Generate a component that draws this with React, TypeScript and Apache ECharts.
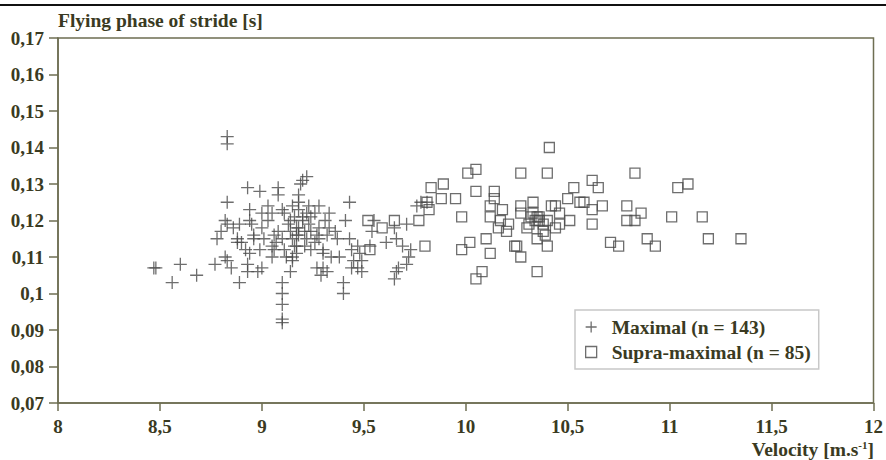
import React, { useEffect, useRef } from "react";
import * as echarts from "echarts";

const xTicks = ["8", "8,5", "9", "9,5", "10", "10,5", "11", "11,5", "12"];
const yTicks = ["0,07", "0,08", "0,09", "0,1", "0,11", "0,12", "0,13", "0,14", "0,15", "0,16", "0,17"];

const maximalName = "Maximal (n = 143)";
const supraName = "Supra-maximal (n = 85)";

const maximal: number[][] = [
  [8.83, 0.143], [8.83, 0.141], [8.83, 0.125], [8.82, 0.12], [8.83, 0.119], [8.86, 0.118],
  [8.8, 0.117], [8.78, 0.115], [8.88, 0.115], [8.88, 0.114], [8.82, 0.11], [8.83, 0.109],
  [8.85, 0.107], [8.77, 0.108], [8.6, 0.108], [8.48, 0.107], [8.47, 0.107], [8.56, 0.103],
  [8.68, 0.105], [8.89, 0.103], [8.93, 0.129], [8.99, 0.128], [9.08, 0.129], [9.08, 0.127],
  [9.19, 0.13], [9.2, 0.131], [9.22, 0.132], [8.94, 0.123], [9.0, 0.122], [9.05, 0.122],
  [9.15, 0.124], [9.18, 0.125], [9.16, 0.121], [9.2, 0.121], [9.22, 0.122], [9.24, 0.121],
  [9.28, 0.124], [9.33, 0.122], [8.94, 0.12], [8.95, 0.119], [9.0, 0.118], [8.96, 0.116],
  [8.96, 0.115], [9.06, 0.116], [9.07, 0.114], [9.06, 0.112], [9.08, 0.117], [9.14, 0.12],
  [9.18, 0.118], [9.21, 0.117], [9.24, 0.117], [9.28, 0.118], [9.33, 0.118], [9.36, 0.117],
  [8.9, 0.114], [9.15, 0.115], [9.22, 0.115], [9.28, 0.115], [9.16, 0.113], [9.17, 0.111],
  [9.24, 0.112], [9.3, 0.112], [9.17, 0.116], [9.17, 0.113], [9.15, 0.11], [9.15, 0.109],
  [8.94, 0.111], [9.05, 0.11], [9.12, 0.11], [9.14, 0.106], [9.3, 0.111], [9.34, 0.11],
  [9.38, 0.11], [8.93, 0.108], [8.93, 0.106], [8.98, 0.106], [9.0, 0.107], [9.27, 0.107],
  [9.3, 0.107], [9.29, 0.105], [9.32, 0.106], [9.1, 0.103], [9.1, 0.1], [9.1, 0.097],
  [9.1, 0.093], [9.1, 0.092], [9.4, 0.103], [9.4, 0.1], [9.05, 0.113], [9.18, 0.127],
  [9.43, 0.125], [9.43, 0.115], [9.44, 0.112], [9.47, 0.113], [9.44, 0.107], [9.48, 0.111],
  [9.49, 0.109], [9.45, 0.109], [9.47, 0.107], [9.49, 0.106], [9.54, 0.117], [9.55, 0.12],
  [9.53, 0.113], [9.61, 0.114], [9.65, 0.118], [9.66, 0.115], [9.71, 0.119], [9.69, 0.113],
  [9.73, 0.112], [9.72, 0.11], [9.71, 0.108], [9.67, 0.107], [9.66, 0.106], [9.65, 0.104],
  [9.78, 0.125], [9.81, 0.125], [9.76, 0.124], [9.11, 0.122], [9.13, 0.119], [9.18, 0.123],
  [9.2, 0.12], [9.23, 0.119], [9.26, 0.122], [9.27, 0.116], [9.31, 0.12], [9.32, 0.116],
  [9.18, 0.116], [9.21, 0.113], [9.14, 0.117], [9.1, 0.115], [9.11, 0.112], [9.03, 0.12],
  [9.01, 0.115], [8.92, 0.112], [8.89, 0.119], [9.1, 0.123], [9.17, 0.118], [9.26, 0.114],
  [9.23, 0.124], [9.37, 0.115], [9.41, 0.12], [9.03, 0.124], [8.99, 0.112],
];

const supraMaximal: number[][] = [
  [9.83, 0.129], [9.89, 0.13], [9.88, 0.126], [9.95, 0.126], [9.81, 0.125], [9.82, 0.123],
  [9.52, 0.12], [9.59, 0.118], [9.65, 0.12], [9.77, 0.12], [9.53, 0.112], [9.8, 0.113],
  [9.98, 0.121], [9.98, 0.112], [10.41, 0.14], [10.01, 0.133], [10.05, 0.134], [10.27, 0.133],
  [10.4, 0.133], [10.05, 0.128], [10.14, 0.128], [10.14, 0.126], [10.12, 0.124], [10.18, 0.123],
  [10.27, 0.124], [10.33, 0.125], [10.33, 0.122], [10.35, 0.121], [10.42, 0.124], [10.44, 0.124],
  [10.5, 0.126], [10.53, 0.129], [10.56, 0.125], [10.62, 0.123], [10.62, 0.131], [10.12, 0.121],
  [10.17, 0.12], [10.16, 0.118], [10.2, 0.117], [10.27, 0.122], [10.32, 0.121], [10.36, 0.12],
  [10.4, 0.12], [10.46, 0.119], [10.51, 0.12], [10.31, 0.119], [10.38, 0.117], [10.39, 0.116],
  [10.62, 0.119], [10.02, 0.114], [10.1, 0.115], [10.12, 0.111], [10.24, 0.113], [10.25, 0.113],
  [10.27, 0.11], [10.35, 0.115], [10.4, 0.113], [10.05, 0.104], [10.08, 0.106], [10.35, 0.106],
  [10.83, 0.133], [10.65, 0.129], [11.04, 0.129], [11.09, 0.13], [10.67, 0.124], [10.79, 0.124],
  [10.79, 0.12], [10.83, 0.12], [10.86, 0.122], [11.01, 0.121], [11.16, 0.121], [10.71, 0.114],
  [10.75, 0.113], [10.89, 0.115], [10.93, 0.113], [11.19, 0.115], [11.35, 0.115],
  [10.34, 0.12], [10.36, 0.121], [10.3, 0.118], [10.38, 0.119], [10.21, 0.119], [10.46, 0.122],
  [10.58, 0.125], [10.44, 0.118],
];

const FONT = "'Liberation Serif', 'Times New Roman', serif";
const TEXT = "#3a3a22";
const AXIS = "#6e6e52";
const MARK = "#4a4a4a";
const PLUS = "path://M0,5L10,5M5,0L5,10";

export default function App() {
  const ref = useRef<HTMLDivElement>(null);
  useEffect(() => {
    if (!ref.current) return;
    const chart = echarts.init(ref.current, undefined, { renderer: "svg" });
    const fmt = (v: number) => String(+v.toFixed(2)).replace(".", ",");
    chart.setOption({
      animation: false,
      backgroundColor: "#ffffff",
      grid: {
        left: 58,
        right: 11,
        top: 38,
        bottom: 57,
        show: true,
        borderColor: AXIS,
        borderWidth: 1.5,
      },
      xAxis: {
        type: "value",
        min: 8,
        max: 12,
        interval: 0.5,
        axisLine: { show: true, lineStyle: { color: AXIS, width: 1.5 } },
        axisTick: { show: true, length: 8, lineStyle: { color: AXIS, width: 1.5 } },
        splitLine: { show: false },
        axisLabel: {
          margin: 14,
          formatter: (v: number) => fmt(v),
          color: TEXT,
          fontFamily: FONT,
          fontWeight: "bold",
          fontSize: 19,
        },
      },
      yAxis: {
        type: "value",
        min: 0.07,
        max: 0.17,
        interval: 0.01,
        axisLine: { show: true, lineStyle: { color: AXIS, width: 1.5 } },
        axisTick: { show: true, length: 9, lineStyle: { color: AXIS, width: 1.5 } },
        splitLine: { show: false },
        axisLabel: {
          margin: 14,
          formatter: (v: number) => fmt(v),
          color: TEXT,
          fontFamily: FONT,
          fontWeight: "bold",
          fontSize: 19,
        },
      },
      legend: {
        orient: "vertical",
        left: 575,
        top: 310,
        padding: [7, 8, 7, 10],
        itemGap: 5,
        itemWidth: 11,
        itemHeight: 11,
        backgroundColor: "#ffffff",
        borderColor: "#c8c8c8",
        borderWidth: 1.5,
        textStyle: {
          color: TEXT,
          fontFamily: FONT,
          fontWeight: "bold",
          fontSize: 19.5,
          padding: [0, 0, 0, 10],
        },
        data: [
          { name: maximalName, icon: PLUS, itemStyle: { color: "rgba(0,0,0,0)", borderColor: MARK, borderWidth: 1.3 } },
          { name: supraName, icon: "rect", itemStyle: { color: "rgba(0,0,0,0)", borderColor: MARK, borderWidth: 1.3 } },
        ],
      },
      graphic: [
        { type: "line", shape: { x1: 0, y1: 5, x2: 886, y2: 5 }, style: { stroke: "#111", lineWidth: 2 } },
        {
          type: "text",
          left: 58,
          top: 10,
          style: { text: "Flying phase of stride [s]", fill: TEXT, font: `bold 19.5px ${FONT}` },
        },
        {
          type: "text",
          right: 12,
          top: 439,
          style: {
            text: "Velocity [m.s{sup|-1}]",
            fill: TEXT,
            font: `bold 19.5px ${FONT}`,
            rich: {
              sup: { fontSize: 11, fontWeight: "bold", fontFamily: FONT, fill: TEXT, verticalAlign: "top", padding: [0, 0, 8, 0] },
            },
          },
        },
      ],
      series: [
        {
          name: maximalName,
          type: "scatter",
          data: maximal,
          symbol: PLUS,
          symbolSize: 13,
          itemStyle: { color: "rgba(0,0,0,0)", borderColor: MARK, borderWidth: 1.3 },
          z: 3,
        },
        {
          name: supraName,
          type: "scatter",
          data: supraMaximal,
          symbol: "rect",
          symbolSize: 10,
          itemStyle: { color: "rgba(0,0,0,0)", borderColor: MARK, borderWidth: 1.3 },
          z: 2,
        },
      ],
    });
    return () => chart.dispose();
  }, []);
  return <div ref={ref} style={{ position: "fixed", left: 0, top: 0, width: 886, height: 460 }} />;
}
